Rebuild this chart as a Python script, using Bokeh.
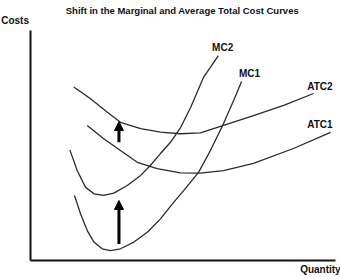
from bokeh.plotting import figure
from bokeh.models import Label, Arrow, NormalHead, ColumnDataSource, Range1d, LinearAxis, FixedTicker
from bokeh.embed import file_html
from bokeh.resources import INLINE

# Curve data (Quantity, Costs) (units 0-100)
mc1_q = [14.4, 16.4, 18.6, 20.8, 23.5, 26.2, 29.5, 33.9, 38.3, 42.6, 47.0, 50.2, 55.1, 59.0, 63.3, 66.6, 69.2]
mc1_c = [28.3, 20.3, 13.0, 8.0, 5.1, 4.3, 5.1, 8.0, 12.3, 18.1, 25.4, 30.4, 38.3, 47.8, 59.6, 69.6, 77.8]

mc2_q = [12.9, 15.3, 18.0, 20.8, 24.0, 27.3, 31.7, 36.1, 39.3, 42.6, 45.9, 49.2, 52.5, 56.7, 61.6]
mc2_c = [48.1, 39.1, 31.9, 29.0, 28.3, 29.3, 32.6, 37.0, 41.3, 46.5, 51.4, 57.8, 66.5, 79.6, 89.1]

atc2_q = [14.2, 19.7, 25.2, 29.5, 36.1, 42.6, 49.2, 55.7, 63.3, 73.1, 83.0, 92.8]
atc2_c = [75.4, 70.3, 64.5, 60.1, 57.3, 55.8, 55.1, 55.5, 58.7, 63.0, 67.4, 72.6]

atc1_q = [18.6, 24.0, 29.5, 35.0, 41.5, 49.2, 55.7, 63.3, 73.1, 86.2, 98.4]
atc1_c = [58.7, 52.9, 47.8, 42.7, 39.9, 38.1, 38.0, 39.1, 42.2, 48.7, 55.7]

arrow_q = [29.0, 29.0]
arrow_from = [7.2, 51.4]
arrow_to = [26.1, 60.4]

title_text = "Shift in the Marginal and Average Total Cost Curves"
y_label = "Costs"
x_label = "Quantity"
curve_names = ["MC2", "MC1", "ATC2", "ATC1"]

FONT = "Liberation Sans"

p = figure(width=340, height=279, output_backend="svg", toolbar_location=None,
           x_range=Range1d(-9.84, 101.64), y_range=Range1d(-8.26, 113.04),
           x_axis_type=None, y_axis_type=None, min_border=0)
p.outline_line_color = None
p.grid.visible = False
p.background_fill_color = "white"
p.border_fill_color = "white"

xa = LinearAxis(fixed_location=0, bounds=(0, 100), ticker=FixedTicker(ticks=[]))
ya = LinearAxis(fixed_location=0, bounds=(0, 100), ticker=FixedTicker(ticks=[]))
for ax in (xa, ya):
    ax.axis_line_width = 2
    ax.axis_line_color = "#111111"
    ax.major_tick_line_color = None
    ax.minor_tick_line_color = None
    ax.major_tick_out = 0
    ax.major_tick_in = 0
    ax.minor_tick_out = 0
    ax.major_label_standoff = 0
p.add_layout(xa, "below")
p.add_layout(ya, "left")

lc = "#2a2a2a"
p.line(mc1_q, mc1_c, line_color=lc, line_width=1.3)
p.line(mc2_q, mc2_c, line_color=lc, line_width=1.3)
p.line(atc2_q, atc2_c, line_color=lc, line_width=1.3)
p.line(atc1_q, atc1_c, line_color=lc, line_width=1.3)

src = ColumnDataSource(dict(x=arrow_q, y0=arrow_from, y1=arrow_to))
p.add_layout(Arrow(source=src, x_start="x", y_start="y0", x_end="x", y_end="y1",
                   line_width=3, line_color="black",
                   end=NormalHead(size=9, fill_color="black", line_color="black", line_width=1)))

def lab(x, y, text, align="center", size="10px", font=FONT):
    p.add_layout(Label(x=x, y=y, text=text, text_align=align, text_baseline="middle",
                       text_font=font, text_font_style="bold", text_font_size=size,
                       text_color="#111111"))

lab(49.8, 108.5, title_text, size="9.5px")
lab(-9.6, 104.3, y_label, align="left")
lab(101.7, -4.1, x_label, align="right")
lab(63.0, 92.8, curve_names[0])
lab(71.8, 81.2, curve_names[1])
lab(94.9, 75.6, curve_names[2])
lab(94.9, 59.1, curve_names[3])

open("out.html", "w").write(file_html(p, INLINE))
